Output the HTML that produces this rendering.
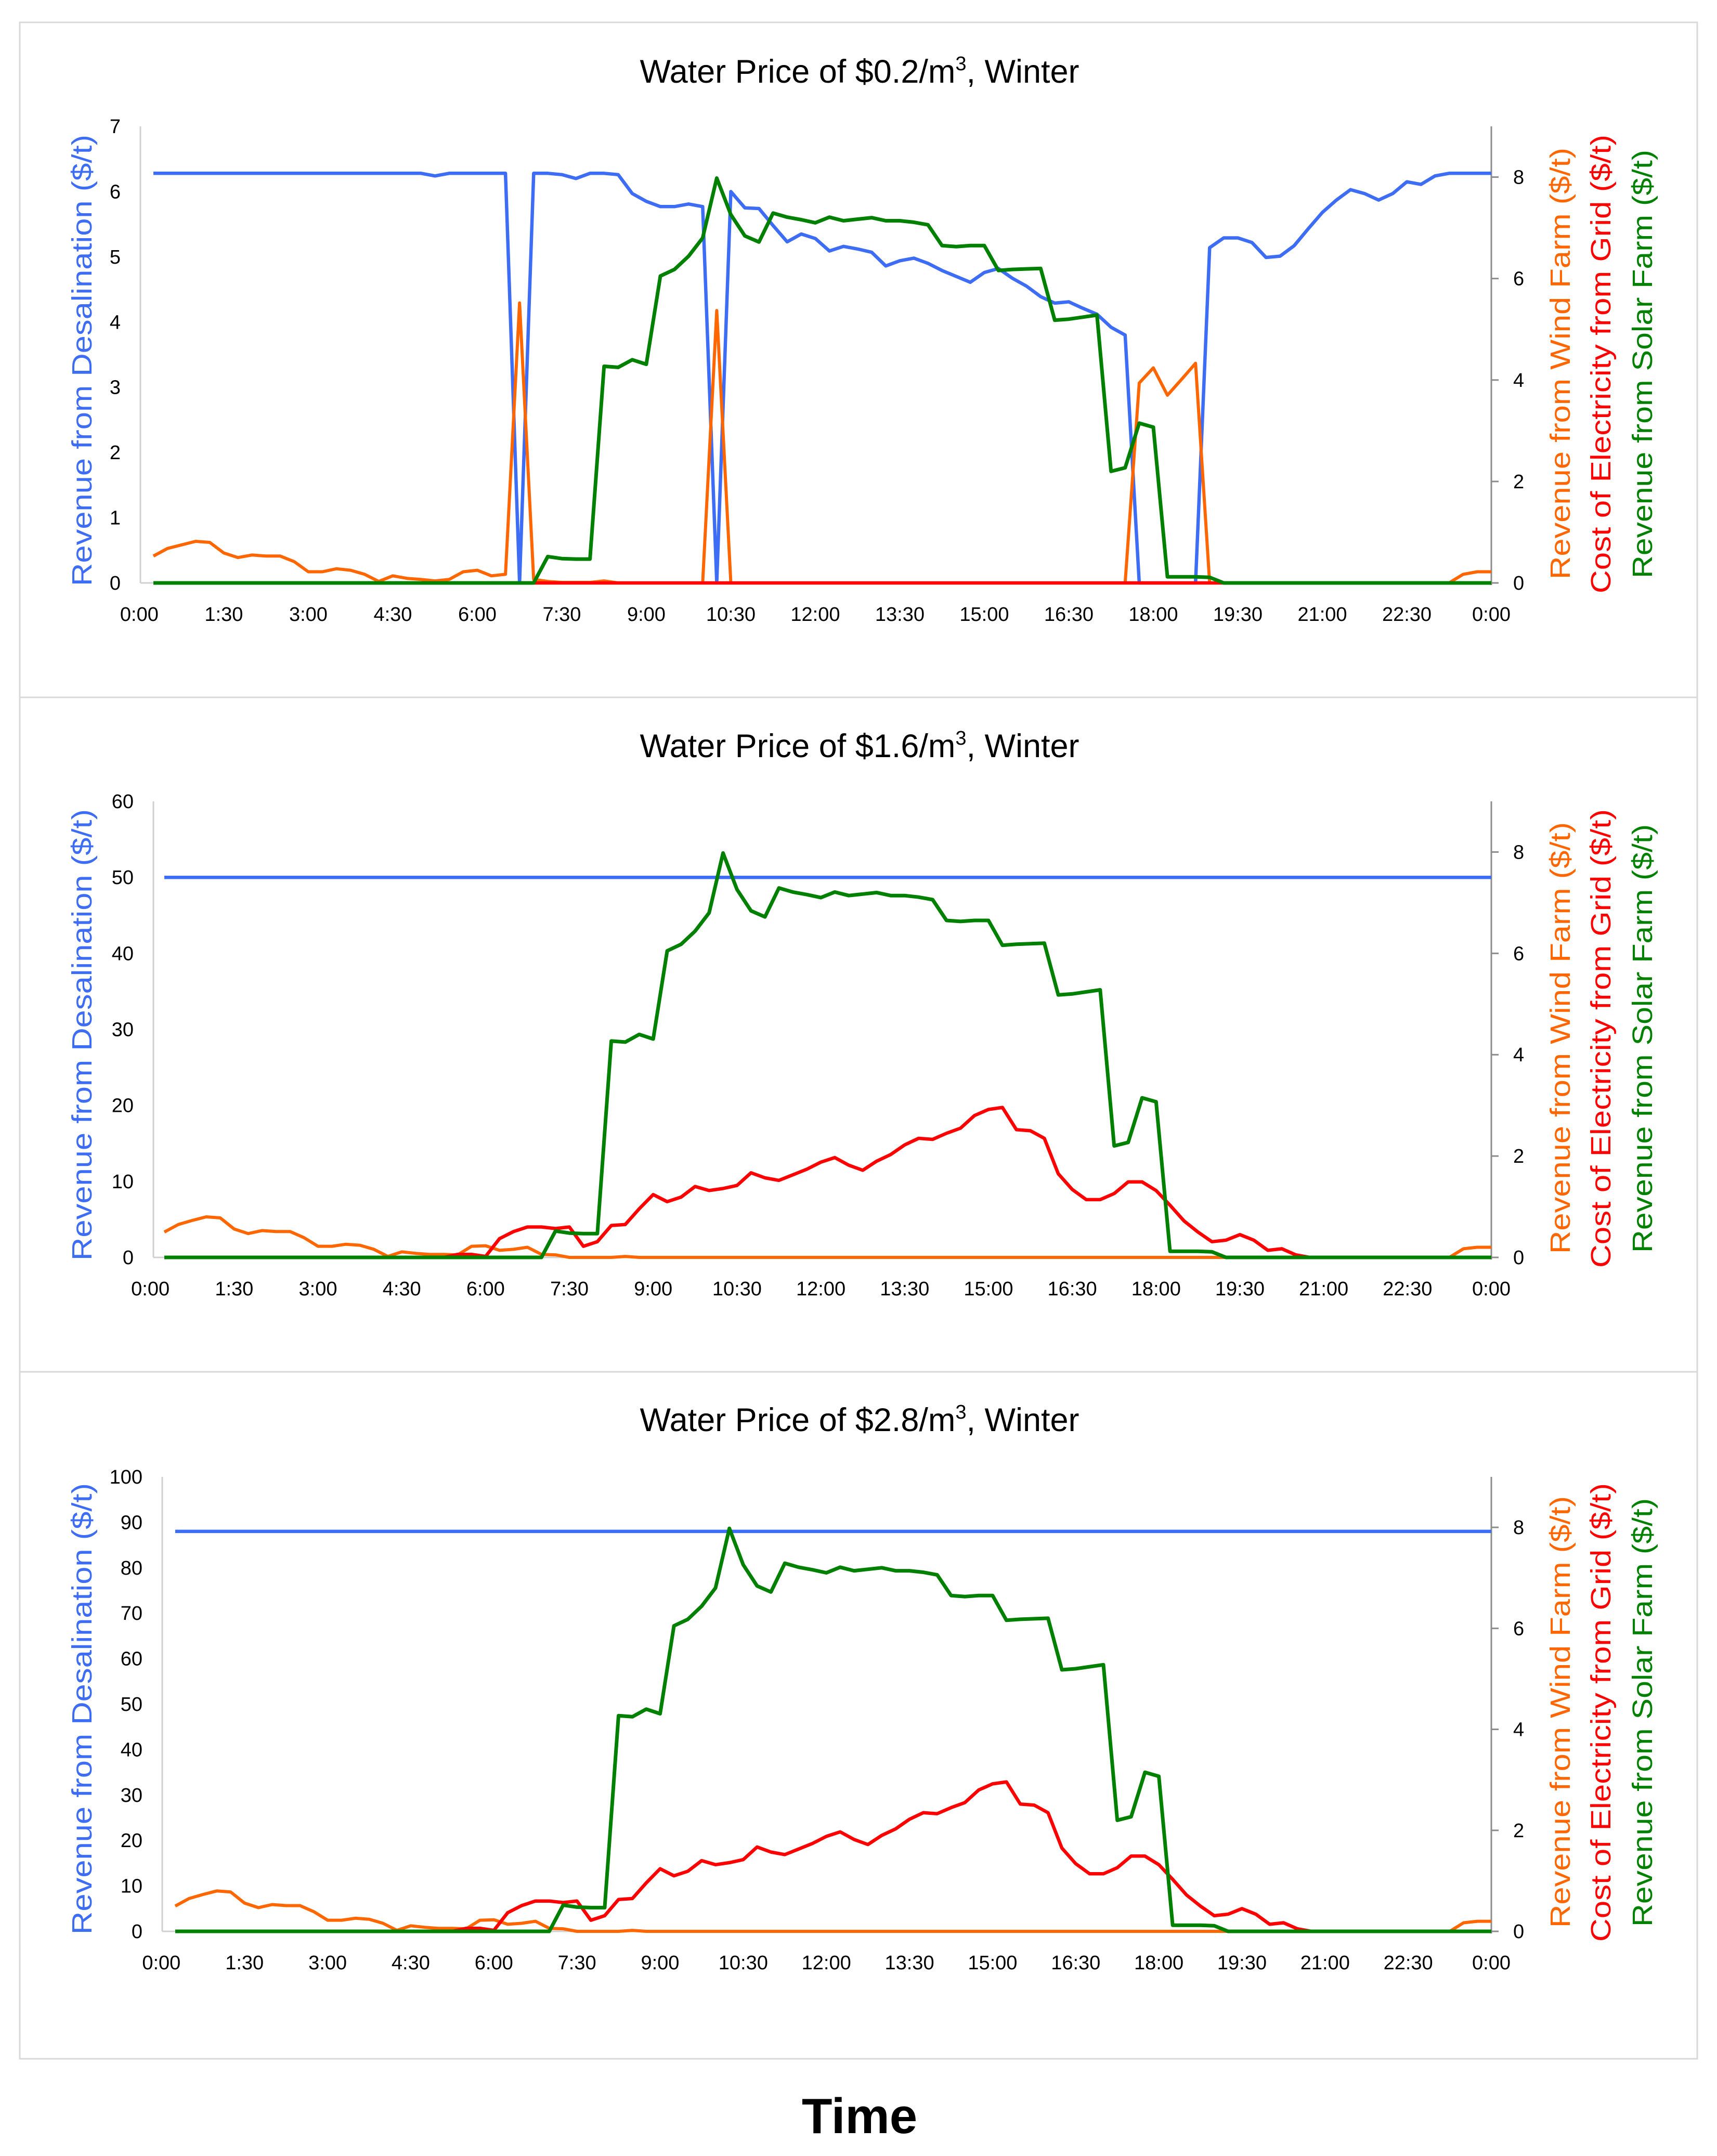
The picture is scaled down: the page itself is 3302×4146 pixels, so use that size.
<!DOCTYPE html>
<html><head><meta charset="utf-8">
<style>
html,body{margin:0;padding:0;background:#fff;}
svg{display:block;}
text{font-family:"Liberation Sans",sans-serif;}
</style></head>
<body>
<svg id="fig" width="3302" height="4146" viewBox="0 0 3302 4146" xmlns="http://www.w3.org/2000/svg">
<rect x="0" y="0" width="3302" height="4146" fill="#fff"/>
<text x="1653" y="4102" text-anchor="middle" font-family="Liberation Serif, serif" font-weight="bold" font-size="96" fill="#000">Time</text>
</svg>
<script>
const timeLabels = ["0:00","1:30","3:00","4:30","6:00","7:30","9:00","10:30","12:00","13:30","15:00","16:30","18:00","19:30","21:00","22:30","0:00"];
const solar = [0,0,0,0,0,0,0,0,0,0,0,0,0,0,0,0,0,0,0,0,0,0,0,0,0,0,0,0,
0.52,0.48,0.47,0.47,4.27,4.25,4.40,4.31,6.05,6.18,6.44,6.80,7.98,7.26,6.84,6.72,7.29,7.21,7.16,7.10,
7.21,7.14,7.17,7.20,7.14,7.14,7.11,7.06,6.65,6.63,6.65,6.65,6.16,6.18,6.19,6.20,5.18,5.20,5.24,5.28,
2.20,2.27,3.15,3.07,0.12,0.12,0.12,0.11,
0,0,0,0,0,0,0,0,0,0,0,0,0,0,0,0,0,0,0,0];
const gridCost = [0,0,0,0,0,0,0,0,0,0,0,0,0,0,0,0,0,0,0,0,0,
0.06,0.06,0.02,0.37,0.51,0.60,0.60,0.57,0.60,0.22,0.31,0.63,0.65,0.96,1.24,1.10,1.19,1.40,1.32,1.36,1.42,
1.67,1.57,1.52,1.63,1.74,1.88,1.97,1.82,1.72,1.90,2.03,2.22,2.35,2.33,2.45,2.55,2.80,2.92,2.96,2.52,2.50,
2.35,1.65,1.34,1.14,1.14,1.26,1.49,1.49,1.32,1.03,0.72,0.50,0.31,0.34,0.45,0.34,0.14,0.17,0.05,
0,0,0,0,0,0,0,0,0,0,0,0,0,0];
const gridCostLow = [0,0,0,0,0,0,0,0,0,0,0,0,0,0,0,0,0,0,0,0,0,0,0,0,0,0,0,0,0,0,0,0,0,0,0,0,0,0,0,0,0,0,0,0,0,0,0,0,
0,0,0,0,0,0,0,0,0,0,0,0,0,0,0,0,0,0,0,0,0,0,0,0,0,0,0,0,0,0,0,0,0,0,0,0,0,0,0,0,0,0,0,0,0,0,0,0];
const wind = [0.50,0.65,0.73,0.80,0.78,0.56,0.47,0.53,0.51,0.51,0.39,0.22,0.22,0.26,0.24,0.16,0.02,0.11,0.08,0.06,
0.06,0.05,0.22,0.23,0.14,0.16,0.20,0.06,0.05,0,0,0,0,0.02,
0,0,0,0,0,0,0,0,0,0,0,0,0,0,0,0,0,0,0,0,0,0,0,0,0,0,0,0,0,0,0,0,0,0,0,0,0,0,0,0,0,0,0,0,0,0,0,0,0,0,0,0,0,0,0,0,0,0,0,
0.17,0.20,0.20];
const windLow = [0.53,0.68,0.75,0.82,0.80,0.59,0.50,0.55,0.53,0.53,0.42,0.22,0.22,0.28,0.25,0.17,0.03,0.14,0.09,0.07,
0.04,0.07,0.22,0.25,0.14,0.17,5.52,0.07,0.03,0.01,0.01,0.01,0.04,0,0,0,0,0,0,0,5.37,0,0,0,0,
0,0,0,0,0,0,0,0,0,0,0,0,0,0,0,0,0,0,0,0,0,0,0,0,0,
3.94,4.24,3.70,4.01,4.33,0,0,0,0,0,0,0,0,0,0,0,0,0,0,0,0,0,0,0.17,0.22,0.22];
const desalLow = [6.28,6.28,6.28,6.28,6.28,6.28,6.28,6.28,6.28,6.28,6.28,6.28,6.28,6.28,6.28,6.28,6.28,6.28,6.28,6.28,
6.24,6.28,6.28,6.28,6.28,6.28,0,6.28,6.28,6.26,6.20,6.28,6.28,6.26,5.97,5.85,5.77,5.77,5.81,5.77,0,6.00,5.75,5.74,
5.48,5.23,5.35,5.28,5.09,5.16,5.12,5.07,4.86,4.94,4.98,4.90,4.79,4.70,4.61,4.76,4.82,4.67,4.55,4.39,4.29,4.31,
4.21,4.12,3.92,3.80,0,0,0,0,0,5.14,5.29,5.29,5.22,4.99,5.01,5.17,5.43,5.68,5.87,6.03,5.97,5.87,5.97,6.15,6.11,
6.24,6.28,6.28,6.28,6.28];
const desalMid = [50,50,50,50,50,50,50,50,50,50,50,50,50,50,50,50,50,50,50,50,50,50,50,50,50,50,50,50,50,50,50,50,
50,50,50,50,50,50,50,50,50,50,50,50,50,50,50,50,50,50,50,50,50,50,50,50,50,50,50,50,50,50,50,50,
50,50,50,50,50,50,50,50,50,50,50,50,50,50,50,50,50,50,50,50,50,50,50,50,50,50,50,50,50,50,50,50];
const desalHigh = [88,88,88,88,88,88,88,88,88,88,88,88,88,88,88,88,88,88,88,88,88,88,88,88,88,88,88,88,88,88,88,88,
88,88,88,88,88,88,88,88,88,88,88,88,88,88,88,88,88,88,88,88,88,88,88,88,88,88,88,88,88,88,88,88,
88,88,88,88,88,88,88,88,88,88,88,88,88,88,88,88,88,88,88,88,88,88,88,88,88,88,88,88,88,88,88,88];
const chartTitles = ["0.2","1.6","2.8"];
const leftMax = [7,60,100];
const leftStep = [1,10,10];
const rightTicks = [0,2,4,6,8];

const NS="http://www.w3.org/2000/svg";
const svg=document.getElementById('fig');
function el(tag,attrs,parent){const e=document.createElementNS(NS,tag);for(const k in attrs)e.setAttribute(k,attrs[k]);(parent||svg).appendChild(e);return e;}

const charts=[
 {panelTop:43,panelBot:1341,axL:270,x0:295,top:243,zero:1121,desal:desalLow,wind:windLow,grid:gridCostLow},
 {panelTop:1341,panelBot:2638,axL:295,x0:316,top:1541,zero:2418,desal:desalMid,wind:wind,grid:gridCost},
 {panelTop:2638,panelBot:3959,axL:312,x0:337,top:2840,zero:3714,desal:desalHigh,wind:wind,grid:gridCost}
];
const axR=2868, rightMax=9;
charts.forEach((c,ci)=>{
  const g=el('g',{});
  
  
  const panel=el('rect',{x:38,y:c.panelTop,width:3226,height:c.panelBot-c.panelTop,fill:'none',stroke:'#d9d9d9','stroke-width':3},g);
  
  
  const n=96, step=(axR-c.x0)/(n-1);
  const X=i=>c.x0+i*step;
  const YL=v=>c.zero-v/leftMax[ci]*(c.zero-c.top);
  const YR=v=>c.zero-v/rightMax*(c.zero-c.top);
  const t=el('text',{x:1653,y:c.zero-962,'text-anchor':'middle','font-size':63,fill:'#000'},g);
  
  
  t.innerHTML='Water Price of $'+chartTitles[ci]+'/m<tspan font-size="38" dy="-24">3</tspan><tspan dy="24">, Winter</tspan>';
  const la=el('line',{x1:c.axL,y1:c.top,x2:c.axL,y2:c.zero,stroke:'#d0d0d0','stroke-width':3},g);
  
  
  const ra=el('line',{x1:axR,y1:c.top,x2:axR,y2:c.zero+4,stroke:'#8c8c8c','stroke-width':3},g);
  
  
  const xa=el('line',{x1:c.axL,y1:c.zero,x2:axR,y2:c.zero,stroke:'#d0d0d0','stroke-width':3},g);
  
  
  for(let v=0;v<=leftMax[ci];v+=leftStep[ci]){
    const tl=el('text',{x:c.axL-38,y:YL(v)+13,'text-anchor':'end','font-size':38,fill:'#000'},g);
    
    
    tl.textContent=v;
  }
  rightTicks.forEach(v=>{
    const tk=el('line',{x1:axR,y1:YR(v),x2:axR+14,y2:YR(v),stroke:'#8c8c8c','stroke-width':3},g);
    
    
    const tl=el('text',{x:axR+42,y:YR(v)+13,'text-anchor':'start','font-size':38,fill:'#000'},g);
    
    
    tl.textContent=v;
  });
  timeLabels.forEach((s,k)=>{
    const tl=el('text',{x:X(6*k-1),y:c.zero+73,'text-anchor':'middle','font-size':38,fill:'#000'},g);
    
    
    tl.textContent=s;
  });
  function vt(txt,x,yc,len,col,name){
    const a=el('text',{x:0,y:0,transform:'translate('+x+','+yc+') rotate(-90)','text-anchor':'middle','dominant-baseline':'central','font-family':'DejaVu Sans, sans-serif','font-size':54,fill:col,textLength:len,lengthAdjust:'spacingAndGlyphs'},g);
    
    
    a.textContent=txt;
  }
  vt('Revenue from Desalination ($/t)',158,c.zero-428,868,'#3d6cf5','left-axis-title');
  vt('Revenue from Wind Farm ($/t)',3001,c.zero-422,830,'#ff6600','right-axis-title-wind');
  vt('Cost of Electricity from Grid ($/t)',3079,c.zero-421,882,'#ff0000','right-axis-title-grid');
  vt('Revenue from Solar Farm ($/t)',3159,c.zero-421,824,'#008000','right-axis-title-solar');
  function line(arr,Y,col,w,name){
    const d=arr.map((v,i)=>(i?'L':'M')+X(i).toFixed(1)+' '+Y(v).toFixed(1)).join(' ');
    const p=el('path',{d:d,fill:'none',stroke:col,'stroke-width':w,'stroke-linejoin':'round'},g);
    
    
  }
  line(c.desal,YL,'#3d6cf5',6.5,'desalination-revenue-line');
  line(c.wind,YR,'#ff6600',6,'wind-revenue-line');
  line(c.grid,YR,'#ff0000',6.5,'grid-cost-line');
  line(solar,YR,'#008000',7,'solar-revenue-line');
});
</script>
</body></html>
